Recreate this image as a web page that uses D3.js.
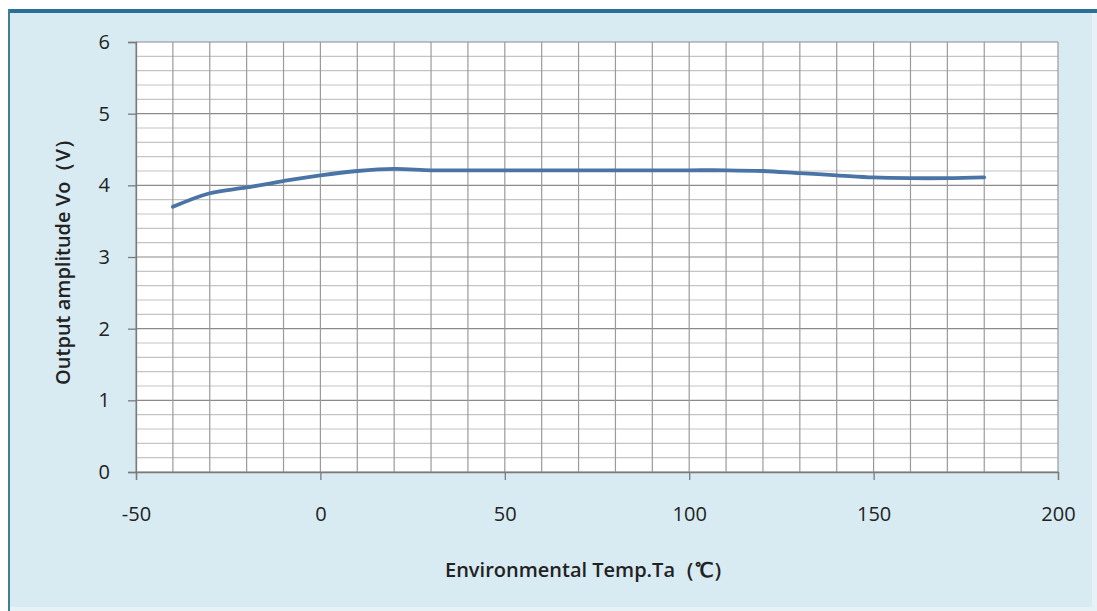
<!DOCTYPE html>
<html>
<head>
<meta charset="utf-8">
<script src="https://cdn.jsdelivr.net/npm/d3@7"></script>
<style>
  body { margin: 0; background: #ffffff; }
  svg { display: block; }
  text { font-family: "Open Sans", sans-serif; fill: #222; }
</style>
</head>
<body>
<div id="chart"></div>
<script>
// temperature (deg C) and output amplitude (V)
let temps = [-40, -30, -20, -10, 0, 10, 20, 30, 40, 50, 60, 70, 80, 90, 100, 110, 120, 130, 140, 150, 160, 170, 180];
let volts = [3.70, 3.89, 3.97, 4.06, 4.14, 4.20, 4.23, 4.21, 4.21, 4.21, 4.21, 4.21, 4.21, 4.21, 4.21, 4.21, 4.20, 4.17, 4.14, 4.11, 4.10, 4.10, 4.11];
let xTicks = [-50, 0, 50, 100, 150, 200];
let yTicks = [0, 1, 2, 3, 4, 5, 6];

let width = 1097, height = 611;
let margin = { left: 136, right: 39, top: 42, bottom: 139 };

let svg = d3.select("#chart").append("svg")
  .attr("width", width)
  .attr("height", height);

// frame background
svg.append("rect")
  .attr("x", 9).attr("y", 11)
  .attr("width", 1088).attr("height", 600)
  .attr("fill", "#e6f2f6");
svg.append("rect")
  .attr("x", 9).attr("y", 11)
  .attr("width", 1083).attr("height", 596)
  .attr("fill", "#d8ebf2");
svg.append("line")
  .attr("x1", 9).attr("x2", 1097).attr("y1", 11).attr("y2", 11)
  .attr("stroke", "#2a6f98").attr("stroke-width", 4);
svg.append("line")
  .attr("x1", 9).attr("x2", 9).attr("y1", 9).attr("y2", 611)
  .attr("stroke", "#3f7f8f").attr("stroke-width", 2);

let x = d3.scaleLinear().domain([-50, 200]).range([margin.left, width - margin.right]);
let y = d3.scaleLinear().domain([0, 6]).range([height - margin.bottom, margin.top]);

// plot area
svg.append("rect")
  .attr("x", x(-50)).attr("y", y(6))
  .attr("width", x(200) - x(-50)).attr("height", y(0) - y(6))
  .attr("fill", "#ffffff");

// minor horizontal grid every 0.2
let g = svg.append("g");
g.selectAll(".hminor")
  .data(d3.range(0, 6.01, 0.2))
  .enter().append("line")
  .attr("x1", x(-50)).attr("x2", x(200))
  .attr("y1", d => y(d)).attr("y2", d => y(d))
  .attr("stroke", d => Math.abs(d - Math.round(d)) < 0.01 ? "#8a8a8a" : "#c4c4c4")
  .attr("stroke-width", 1.2);

// vertical grid every 10
g.selectAll(".vgrid")
  .data(d3.range(-50, 200.1, 10))
  .enter().append("line")
  .attr("x1", d => x(d)).attr("x2", d => x(d))
  .attr("y1", y(0)).attr("y2", y(6))
  .attr("stroke", "#9a9a9a")
  .attr("stroke-width", 1.2);

// axes
let xAxis = d3.axisBottom(x).tickValues(xTicks).tickSize(8).tickPadding(27)
  .tickFormat(d => String(d));
let yAxis = d3.axisLeft(y).tickValues(yTicks).tickSize(8).tickPadding(18)
  .tickFormat(d => String(d));

let gx = svg.append("g")
  .attr("transform", `translate(0,${y(0)})`)
  .call(xAxis);
let gy = svg.append("g")
  .attr("transform", `translate(${x(-50)},0)`)
  .call(yAxis);

[gx, gy].forEach(a => {
  a.select(".domain").attr("stroke", "#7a7a7a").attr("stroke-width", 1.3);
  a.selectAll(".tick line").attr("stroke", "#7a7a7a").attr("stroke-width", 1.3);
  a.selectAll(".tick text")
    .style("font-family", "'Open Sans', sans-serif")
    .style("font-size", "20px")
    .attr("fill", "#333");
});

// the curve
let line = d3.line()
  .x((d, i) => x(temps[i]))
  .y(d => y(d))
  .curve(d3.curveCatmullRom);

svg.append("path")
  .datum(volts)
  .attr("d", line)
  .attr("fill", "none")
  .attr("stroke", "#4a74a6")
  .attr("stroke-width", 3.8)
  .attr("stroke-linecap", "round");

// axis titles
svg.append("text")
  .attr("x", 589)
  .attr("y", 577)
  .attr("text-anchor", "middle")
  .style("font-size", "20px")
  .style("font-weight", "600")
  .text("Environmental Temp.Ta（℃）");

svg.append("text")
  .attr("transform", `translate(70,${(y(0) + y(6)) / 2}) rotate(-90)`)
  .attr("text-anchor", "middle")
  .style("font-size", "20px")
  .style("font-weight", "600")
  .text("Output amplitude Vo（V）");
</script>
</body>
</html>
